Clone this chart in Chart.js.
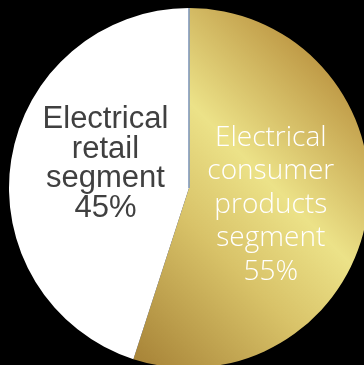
<!DOCTYPE html>
<html>
<head>
<meta charset="utf-8">
<script src="https://cdn.jsdelivr.net/npm/chart.js@4/dist/chart.umd.min.js"></script>
<style>
    html, body {
        margin: 0;
        padding: 0;
        width: 364px;
        height: 365px;
        overflow: hidden;
        background: #000;
    }
    #segmentChart {
        position: absolute;
        left: 9px;
        top: 8px;
    }
</style>
</head>
<body>
<canvas id="segmentChart" width="360" height="360"></canvas>
<script>
// セグメント別構成比
const segmentLabels = ["Electrical consumer products segment", "Electrical retail segment"];
const segmentValues = [55, 45];
const labelLines = [
    ["Electrical", "consumer", "products", "segment", "55%"],
    ["Electrical", "retail", "segment", "45%"],
];

// ゴールドのグラデーション（右上→左下）
function goldFill(chart) {
    const area = chart.chartArea;
    if (!area) return "#d4bb64";
    const g = chart.ctx.createLinearGradient(area.right, area.top, area.left, area.bottom);
    g.addColorStop(0, "#a98434");
    g.addColorStop(0.15, "#c09c48");
    g.addColorStop(0.38, "#ece288");
    g.addColorStop(0.55, "#d8c268");
    g.addColorStop(0.8, "#aa873a");
    g.addColorStop(1, "#9a7630");
    return g;
}

// スライス内のラベルと開始線の描画
const sliceLabels = {
    id: "sliceLabels",
    afterDatasetsDraw(chart) {
        const ctx = chart.ctx;
        const arcs = chart.getDatasetMeta(0).data;
        ctx.save();

        // 先頭スライスの開始辺
        const first = arcs[0];
        ctx.strokeStyle = "#8098bb";
        ctx.lineWidth = 1.6;
        ctx.beginPath();
        ctx.moveTo(first.x, first.y);
        ctx.lineTo(
            first.x + Math.cos(first.startAngle) * first.outerRadius,
            first.y + Math.sin(first.startAngle) * first.outerRadius
        );
        ctx.stroke();

        const styles = [
            { font: "300 28px 'Open Sans'", color: "#ffffff", lh: 33.5, r: 0.46, dy: 4 },
            { font: "31px 'Liberation Sans', Arial", color: "#404040", lh: 29.5, r: 0.47, dy: -11 },
        ];
        ctx.textAlign = "center";
        ctx.textBaseline = "middle";
        arcs.forEach((arc, i) => {
            const s = styles[i];
            const mid = (arc.startAngle + arc.endAngle) / 2;
            const cx = arc.x + Math.cos(mid) * arc.outerRadius * s.r;
            const cy = arc.y + Math.sin(mid) * arc.outerRadius * s.r + s.dy;
            const lines = labelLines[i];
            ctx.font = s.font;
            ctx.fillStyle = s.color;
            lines.forEach((line, j) => {
                ctx.fillText(line, cx, cy + (j - (lines.length - 1) / 2) * s.lh);
            });
        });
        ctx.restore();
    },
};

document.addEventListener("DOMContentLoaded", () => {
    const ctx = document.getElementById("segmentChart").getContext("2d");
    new Chart(ctx, {
        type: "pie",
        data: {
            labels: segmentLabels,
            datasets: [
                {
                    data: segmentValues,
                    backgroundColor: (context) =>
                        context.dataIndex === 0 ? goldFill(context.chart) : "#ffffff",
                    borderWidth: 0,
                },
            ],
        },
        options: {
            responsive: false,
            animation: false,
            layout: { padding: 0 },
            plugins: {
                legend: { display: false },
                tooltip: { enabled: false },
            },
        },
        plugins: [sliceLabels],
    });
});
</script>
</body>
</html>
